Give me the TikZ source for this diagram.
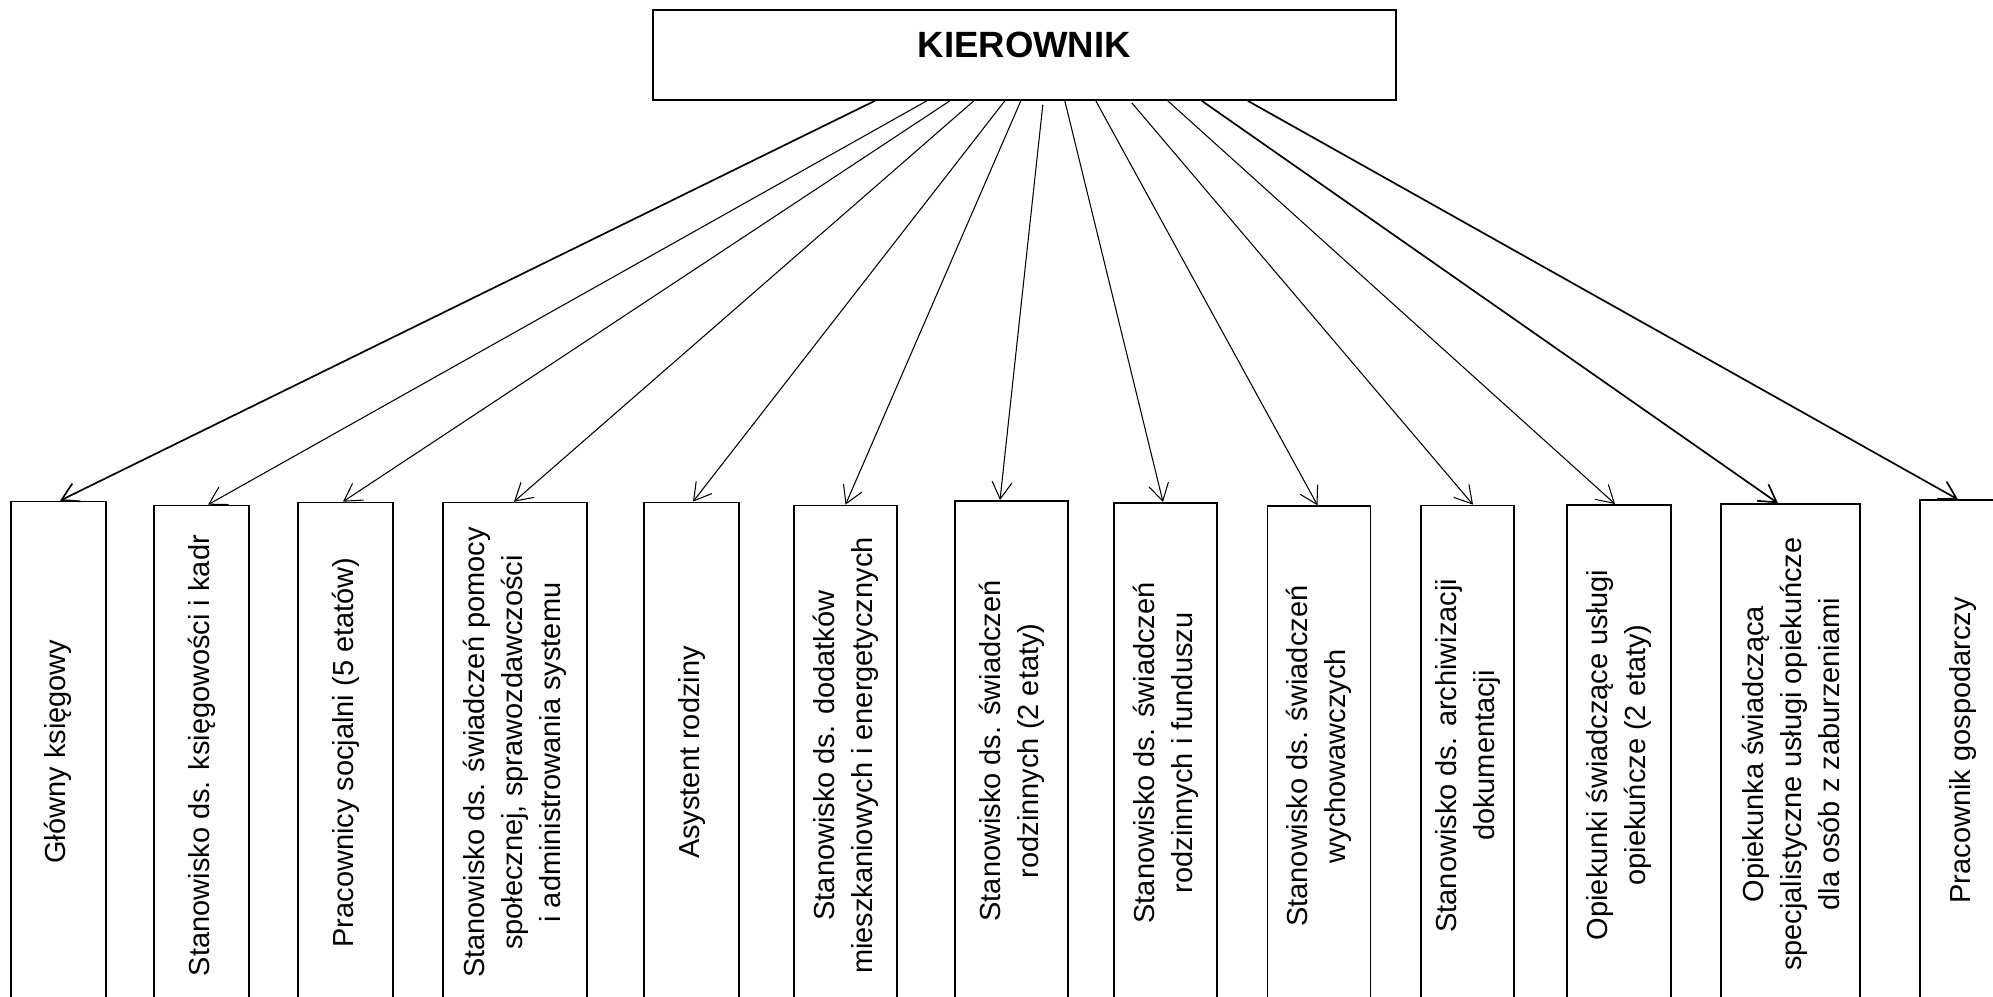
\documentclass[tikz,border=0pt]{standalone}
\usepackage{fontspec}
\setmainfont{Liberation Sans}
\usetikzlibrary{arrows.meta}
\tikzset{
  stanowisko/.style={draw, line width=0.5pt, rotate=90, anchor=east, minimum width=5cm, align=center, inner sep=0pt, font=\fontsize{8.25}{10.8}\selectfont},
  strzalka/.style={-{Straight Barb[length=1.7mm,width=2mm]}, line width=0.3pt},
  gruba/.style={line width=0.48pt}
}
\begin{document}
\begin{tikzpicture}
\useasboundingbox (0,0) rectangle (19.93,9.97);
\node [draw, line width=0.5pt, minimum width=7.43cm, text height=0.475cm, text depth=0.425cm, inner ysep=0pt, font=\bfseries\fontsize{10.4}{12}\selectfont] (kier) at (10.243,9.42) {KIEROWNIK};

\node [stanowisko, minimum height=0.95cm] (b1) at (0.582,4.963) {Główny księgowy};
\node [stanowisko, minimum height=0.95cm] (b2) at (2.015,4.923) {Stanowisko ds. księgowości i kadr};
\node [stanowisko, minimum height=0.95cm] (b3) at (3.455,4.953) {Pracownicy socjalni (5 etatów)};
\node [stanowisko, minimum height=1.44cm] (b4) at (5.15,4.953) {Stanowisko ds. świadczeń pomocy\\społecznej, sprawozdawczości\\i administrowania systemu};
\node [stanowisko, minimum height=0.95cm] (b5) at (6.915,4.953) {Asystent rodziny};
\node [stanowisko, minimum height=1.03cm] (b6) at (8.455,4.923) {Stanowisko ds. dodatków\\mieszkaniowych i energetycznych};
\node [stanowisko, minimum height=1.13cm] (b7) at (10.115,4.97) {Stanowisko ds. świadczeń\\rodzinnych (2 etaty)};
\node [stanowisko, minimum height=1.03cm] (b8) at (11.655,4.95) {Stanowisko ds. świadczeń\\rodzinnych i funduszu};
\node [stanowisko, minimum height=1.03cm] (b9) at (13.19,4.917) {Stanowisko ds. świadczeń\\wychowawczych};
\node [stanowisko, minimum height=0.93cm] (b10) at (14.675,4.923) {Stanowisko ds. archiwizacji\\dokumentacji};
\node [stanowisko, minimum height=1.04cm] (b11) at (16.19,4.93) {Opiekunki świadczące usługi\\opiekuńcze (2 etaty)};
\node [stanowisko, minimum height=1.39cm] (b12) at (17.905,4.937) {Opiekunka świadcząca\\specjalistyczne usługi opiekuńcze\\dla osób z zaburzeniami};
\node [stanowisko, minimum height=0.86cm] (b13) at (19.63,4.975) {Pracownik gospodarczy};

% strzalki od kierownika
\draw [strzalka, gruba] ([xshift=-1.495cm]kier.south) -- ([xshift=0.018cm]b1.east);
\draw [strzalka] ([xshift=-0.975cm]kier.south) -- ([xshift=0.065cm]b2.east);
\draw [strzalka] ([xshift=-0.745cm]kier.south) -- ([xshift=-0.025cm]b3.east);
\draw [strzalka] ([xshift=-0.505cm]kier.south) -- ([xshift=-0.01cm]b4.east);
\draw [strzalka] ([xshift=-0.195cm]kier.south) -- ([xshift=0.015cm]b5.east);
\draw [strzalka] ([xshift=-0.035cm]kier.south) -- (b6.east);
\draw [strzalka] ([xshift=0.185cm,yshift=-0.04cm]kier.south) -- ([xshift=-0.115cm]b7.east);
\draw [strzalka] ([xshift=0.405cm]kier.south) -- ([xshift=-0.025cm]b8.east);
\draw [strzalka] ([xshift=0.715cm]kier.south) -- ([xshift=-0.015cm]b9.east);
\draw [strzalka] ([xshift=1.075cm,yshift=-0.02cm]kier.south) -- ([xshift=0.055cm]b10.east);
\draw [strzalka] ([xshift=1.435cm]kier.south) -- ([xshift=-0.04cm]b11.east);
\draw [strzalka, gruba] ([xshift=1.775cm]kier.south) -- ([xshift=-0.125cm]b12.east);
\draw [strzalka, gruba] ([xshift=2.235cm]kier.south) -- ([xshift=-0.05cm]b13.east);
\end{tikzpicture}
\end{document}
